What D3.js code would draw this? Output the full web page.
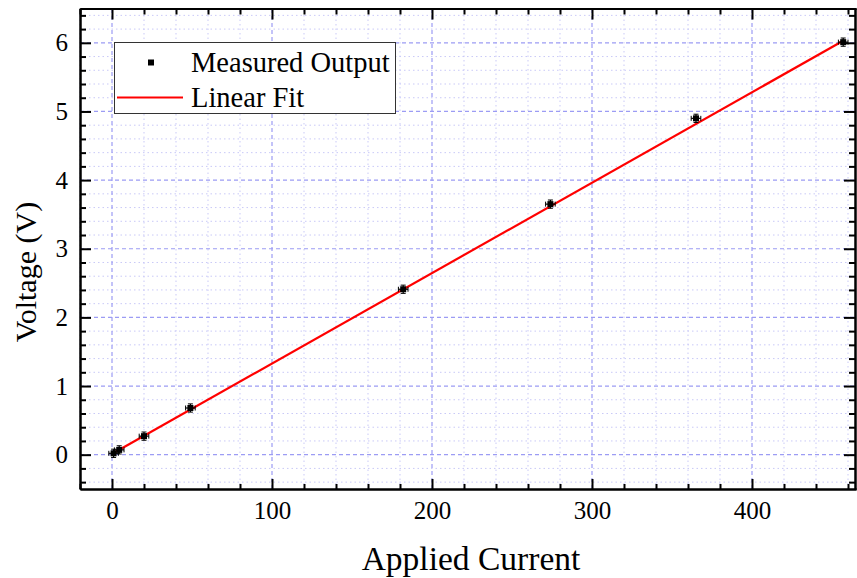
<!DOCTYPE html>
<html>
<head>
<meta charset="utf-8">
<script src="https://cdn.jsdelivr.net/npm/d3@7"></script>
<style>
  body { margin: 0; background: #fff; }
  svg { display: block; font-family: "Liberation Serif", "DejaVu Serif", serif; }
  .grid-major line { stroke: #9c9cf4; stroke-width: 1.2; stroke-dasharray: 4 3; }
  .grid-minor line { stroke: #c9c9f7; stroke-width: 1; stroke-dasharray: 1.5 3; }
  .axis path { stroke: #000; stroke-width: 2; }
  .axis line { stroke: #000; stroke-width: 2; }
  .axis text { font-size: 25px; fill: #000; font-family: "Liberation Serif", serif; }
</style>
</head>
<body>
<svg width="857" height="578"></svg>
<script>
// measured points
const current = [1, 4.5, 20, 49, 182, 274, 365, 457]
const voltage = [0.02, 0.07, 0.27, 0.68, 2.41, 3.65, 4.90, 6.01]
const currentErr = [3, 3, 3, 3, 3, 3, 3, 3]
const voltageErr = [0.06, 0.06, 0.06, 0.06, 0.06, 0.06, 0.06, 0.06]

// fitted line end points
const fitCurrent = [1, 457]
const fitVoltage = [0.025, 6.03]

const xMajor = [0, 100, 200, 300, 400]
const yMajor = [0, 1, 2, 3, 4, 5, 6]

const svg = d3.select('svg')
const margin = {left: 80, top: 8.5, right: 1, bottom: 89}
const W = 857, H = 578

const x = d3.scaleLinear([-20, 465], [margin.left, W - margin.right])
const y = d3.scaleLinear([-0.5, 6.5], [H - margin.bottom, margin.top])

const xMinor = d3.range(-20, 466, 20).filter(v => v % 100 !== 0)
const yMinor = d3.range(-4, 65, 2).map(v => v / 10).filter(v => Math.abs(v - Math.round(v)) > 0.01)

// grid
svg.append('g').attr('class', 'grid-minor')
  .selectAll('line.v').data(xMinor).join('line')
  .attr('x1', d => x(d)).attr('x2', d => x(d))
  .attr('y1', y(-0.5)).attr('y2', y(6.5))
svg.append('g').attr('class', 'grid-minor')
  .selectAll('line.h').data(yMinor).join('line')
  .attr('y1', d => y(d)).attr('y2', d => y(d))
  .attr('x1', x(-20)).attr('x2', x(465))
svg.append('g').attr('class', 'grid-major')
  .selectAll('line').data(xMajor).join('line')
  .attr('x1', d => x(d)).attr('x2', d => x(d))
  .attr('y1', y(-0.5)).attr('y2', y(6.5))
svg.append('g').attr('class', 'grid-major')
  .selectAll('line').data(yMajor).join('line')
  .attr('y1', d => y(d)).attr('y2', d => y(d))
  .attr('x1', x(-20)).attr('x2', x(465))

// fit line
const fit = fitCurrent.map((c, i) => [c, fitVoltage[i]])
svg.append('path')
  .datum(fit)
  .attr('d', d3.line().x(d => x(d[0])).y(d => y(d[1])))
  .attr('stroke', '#ff0000')
  .attr('stroke-width', 2.2)
  .attr('fill', 'none')

// points with error bars
const pts = current.map((c, i) => ({c, v: voltage[i], ce: currentErr[i], ve: voltageErr[i]}))
const pg = svg.append('g').selectAll('g').data(pts).join('g')
pg.append('line')
  .attr('x1', d => x(d.c - d.ce)).attr('x2', d => x(d.c + d.ce))
  .attr('y1', d => y(d.v)).attr('y2', d => y(d.v))
  .attr('stroke', '#000').attr('stroke-width', 1.2)
pg.append('line')
  .attr('x1', d => x(d.c)).attr('x2', d => x(d.c))
  .attr('y1', d => y(d.v - d.ve)).attr('y2', d => y(d.v + d.ve))
  .attr('stroke', '#000').attr('stroke-width', 1.2)
// caps
pg.each(function(d) {
  const g = d3.select(this)
  for (const s of [-1, 1]) {
    g.append('line')
      .attr('x1', x(d.c) - 2.5).attr('x2', x(d.c) + 2.5)
      .attr('y1', y(d.v + s * d.ve)).attr('y2', y(d.v + s * d.ve))
      .attr('stroke', '#000').attr('stroke-width', 1)
    g.append('line')
      .attr('x1', x(d.c + s * d.ce)).attr('x2', x(d.c + s * d.ce))
      .attr('y1', y(d.v) - 2.5).attr('y2', y(d.v) + 2.5)
      .attr('stroke', '#000').attr('stroke-width', 1)
  }
})
pg.append('rect')
  .attr('x', d => x(d.c) - 3).attr('y', d => y(d.v) - 3)
  .attr('width', 6).attr('height', 6)
  .attr('fill', '#000')

// axes
const yBottom = H - margin.bottom, yTop = margin.top
const xLeft = margin.left, xRight = W - margin.right

svg.append('g').attr('class', 'axis').attr('transform', `translate(0,${yBottom})`)
  .call(d3.axisBottom(x).tickValues(xMinor).tickSize(-5).tickSizeOuter(0).tickFormat(''))
svg.append('g').attr('class', 'axis').attr('transform', `translate(0,${yBottom})`)
  .call(d3.axisBottom(x).tickValues(xMajor).tickSize(-10).tickSizeOuter(0).tickPadding(12).tickFormat(d3.format('d')))
svg.append('g').attr('class', 'axis').attr('transform', `translate(0,${yTop})`)
  .call(d3.axisTop(x).tickValues(xMinor).tickSize(-6).tickSizeOuter(0).tickFormat(''))
svg.append('g').attr('class', 'axis').attr('transform', `translate(0,${yTop})`)
  .call(d3.axisTop(x).tickValues(xMajor).tickSize(-11).tickSizeOuter(0).tickFormat(''))

svg.append('g').attr('class', 'axis').attr('transform', `translate(${xLeft},0)`)
  .call(d3.axisLeft(y).tickValues(yMinor).tickSize(-6).tickSizeOuter(0).tickFormat(''))
svg.append('g').attr('class', 'axis').attr('transform', `translate(${xLeft},0)`)
  .call(d3.axisLeft(y).tickValues(yMajor).tickSize(-11).tickSizeOuter(0).tickPadding(12).tickFormat(d3.format('d')))
svg.append('g').attr('class', 'axis').attr('transform', `translate(${xRight - 1},0)`)
  .call(d3.axisRight(y).tickValues(yMinor).tickSize(-6).tickSizeOuter(0).tickFormat(''))
svg.append('g').attr('class', 'axis').attr('transform', `translate(${xRight - 1},0)`)
  .call(d3.axisRight(y).tickValues(yMajor).tickSize(-11).tickSizeOuter(0).tickFormat(''))

// axis titles
svg.append('text')
  .text('Applied Current')
  .attr('x', 471).attr('y', 570)
  .attr('text-anchor', 'middle')
  .attr('font-size', '33.5px')
svg.append('text')
  .text('Voltage (V)')
  .attr('transform', `translate(36,272) rotate(-90)`)
  .attr('text-anchor', 'middle')
  .attr('font-size', '30px')

// legend
const lg = svg.append('g')
lg.append('rect')
  .attr('x', 114.5).attr('y', 42.5).attr('width', 281).attr('height', 71)
  .attr('fill', '#fff').attr('stroke', '#333').attr('stroke-width', 1)
lg.append('rect')
  .attr('x', 148).attr('y', 59.5).attr('width', 6).attr('height', 6)
  .attr('fill', '#000')
lg.append('line')
  .attr('x1', 117).attr('x2', 183).attr('y1', 97.5).attr('y2', 97.5)
  .attr('stroke', '#ff0000').attr('stroke-width', 2)
lg.append('text').text('Measured Output')
  .attr('x', 191).attr('y', 72).attr('font-size', '28.5px')
lg.append('text').text('Linear Fit')
  .attr('x', 191).attr('y', 107).attr('font-size', '28.5px')
</script>
</body>
</html>
